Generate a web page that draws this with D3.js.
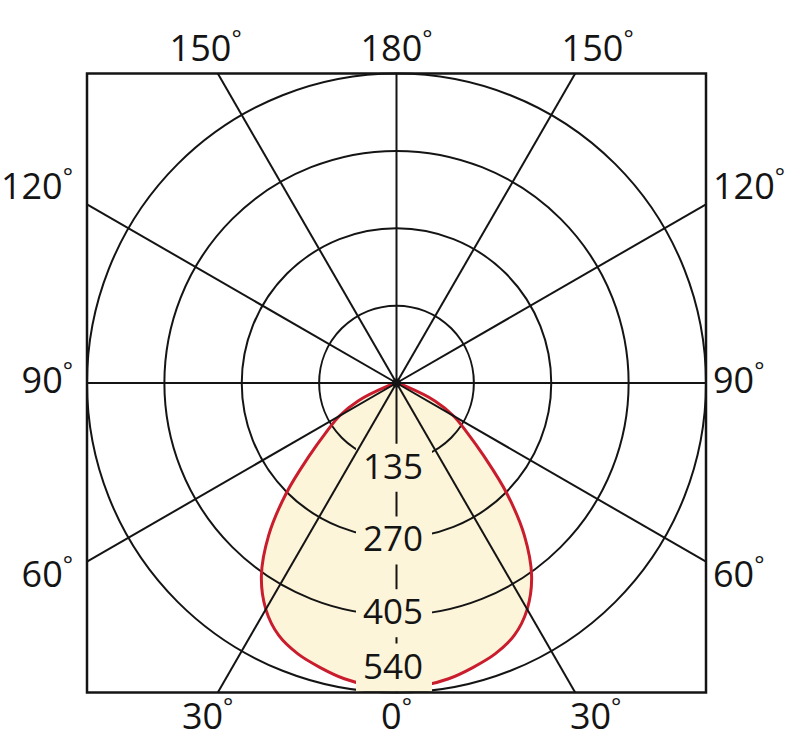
<!DOCTYPE html>
<html>
<head>
<meta charset="utf-8">
<script src="https://cdn.jsdelivr.net/npm/d3@7"></script>
<style>
  html, body { margin: 0; padding: 0; background: #ffffff; }
  svg { display: block; }
</style>
</head>
<body>
<svg id="chart" width="800" height="746"></svg>
<script>
// ---- data ----
const curveAngles = [0, 5, 10, 15, 20, 25, 30, 35, 40, 45, 50, 55, 60, 65, 70, 75, 80, 85, 90];
const curveIntensity = [533, 530, 524, 514, 503, 486, 456, 411, 347, 272, 200, 150, 115, 74, 20, 0, 0, 0, 0];
const ringValues = [135, 270, 405, 540];
const spokeAngles = [0, 30, 60, 90, 120, 150, 180];
const angleLabels = ["0", "30", "60", "90", "120", "150", "180"];

// ---- layout ----
const svg = d3.select("#chart");
const cx = 396.5, cy = 383, R = 309.5;
const rScale = d3.scaleLinear().domain([0, 540]).range([0, R]);
const x0 = cx - rScale(540), x1 = cx + rScale(540), y0 = cy - rScale(540), y1 = cy + rScale(540);
const ink = "#141414";
const fillCol = "#fdf5da";
const redCol = "#c91d2e";
const font = "'Open Sans', 'Noto Sans', sans-serif";
const rad = d => d * Math.PI / 180;

const g = svg.append("g").attr("transform", `translate(${cx},${cy})`);

// ---- intensity curve points (left side then right side) ----
const pts = [];
for (let i = curveAngles.length - 1; i >= 0; i--) pts.push({ a: Math.PI + rad(curveAngles[i]), r: rScale(curveIntensity[i]) });
for (let i = 1; i < curveAngles.length; i++) pts.push({ a: Math.PI - rad(curveAngles[i]), r: rScale(curveIntensity[i]) });

const radial = d3.lineRadial().angle(d => d.a).radius(d => d.r).curve(d3.curveCatmullRom.alpha(0.5));

g.append("path").attr("d", radial(pts) + "Z").attr("fill", fillCol).attr("stroke", "none");

// ---- rings ----
g.selectAll("circle.ring").data(ringValues).join("circle")
  .attr("class", "ring").attr("r", d => rScale(d))
  .attr("fill", "none").attr("stroke", ink).attr("stroke-width", 2);

// spoke endpoint helper
function spokeEnd(theta, side) {
  const sx = side * Math.sin(rad(theta)), sy = Math.cos(rad(theta));
  const t = rScale(540) / Math.max(Math.abs(sx), Math.abs(sy));
  return [sx * t, sy * t];
}

// vertical spoke (0° / 180°)
g.append("line").attr("x1", 0).attr("y1", y0 - cy).attr("x2", 0).attr("y2", y1 - cy)
  .attr("stroke", ink).attr("stroke-width", 2);

// red curve
g.append("path").attr("d", radial(pts)).attr("fill", "none")
  .attr("stroke", redCol).attr("stroke-width", 3).attr("stroke-linejoin", "round");

// ---- ring value label backgrounds & labels ----
const labX = -3.5;
const labBase = v => Math.min(rScale(v) * 0.94 + 23, (y1 - cy) - 14);
g.selectAll("rect.lbg").data(ringValues).join("rect")
  .attr("class", "lbg")
  .attr("x", labX - 37).attr("width", 76)
  .attr("y", d => labBase(d) - 35).attr("height", 48)
  .attr("fill", fillCol);

// other spokes
const others = [];
spokeAngles.filter(a => a > 0 && a < 180).forEach(a => { others.push([a, -1]); others.push([a, 1]); });
g.selectAll("line.spoke").data(others).join("line")
  .attr("class", "spoke")
  .attr("x1", 0).attr("y1", 0)
  .attr("x2", d => spokeEnd(d[0], d[1])[0])
  .attr("y2", d => spokeEnd(d[0], d[1])[1])
  .attr("stroke", ink).attr("stroke-width", 2);

// frame
svg.append("rect").attr("x", x0).attr("y", y0).attr("width", x1 - x0).attr("height", y1 - y0)
  .attr("fill", "none").attr("stroke", ink).attr("stroke-width", 2.5);

// centre dot
g.append("circle").attr("r", 4.5).attr("fill", ink);

// ring labels
g.selectAll("text.rl").data(ringValues).join("text")
  .attr("class", "rl")
  .attr("x", labX).attr("y", d => labBase(d))
  .attr("text-anchor", "middle")
  .attr("font-family", font).attr("font-size", 35).attr("fill", ink)
  .text(d => d);

// ---- angle labels ----
function addLabel(txt, theta, side) {
  const t = svg.append("text").attr("font-family", font).attr("font-size", 36).attr("fill", ink);
  const num = t.append("tspan").text(txt);
  t.append("tspan").attr("font-size", 24).attr("dy", -14).text("°");
  const wNum = num.node().getComputedTextLength();
  const wAll = t.node().getComputedTextLength();
  let x, y;
  if (theta === 0 || theta === 180) {
    x = cx - wAll / 2;
    y = theta === 0 ? y1 + 36 : y0 - 13;
  } else if (theta === 30 || theta === 150) {
    const off = theta === 30 ? 194 : 196;
    x = cx + side * off - wNum / 2;
    y = theta === 30 ? y1 + 36 : y0 - 13;
  } else {
    const centerY = cy - 3.5 + (theta < 90 ? 194 : theta > 90 ? -194 : 0);
    y = centerY + 13;
    x = side < 0 ? x0 - 14 - wAll : x1 + 7;
  }
  t.attr("x", x).attr("y", y);
}
spokeAngles.forEach((a, i) => {
  if (a === 0 || a === 180) addLabel(angleLabels[i], a, 0);
  else { addLabel(angleLabels[i], a, -1); addLabel(angleLabels[i], a, 1); }
});
</script>
</body>
</html>
